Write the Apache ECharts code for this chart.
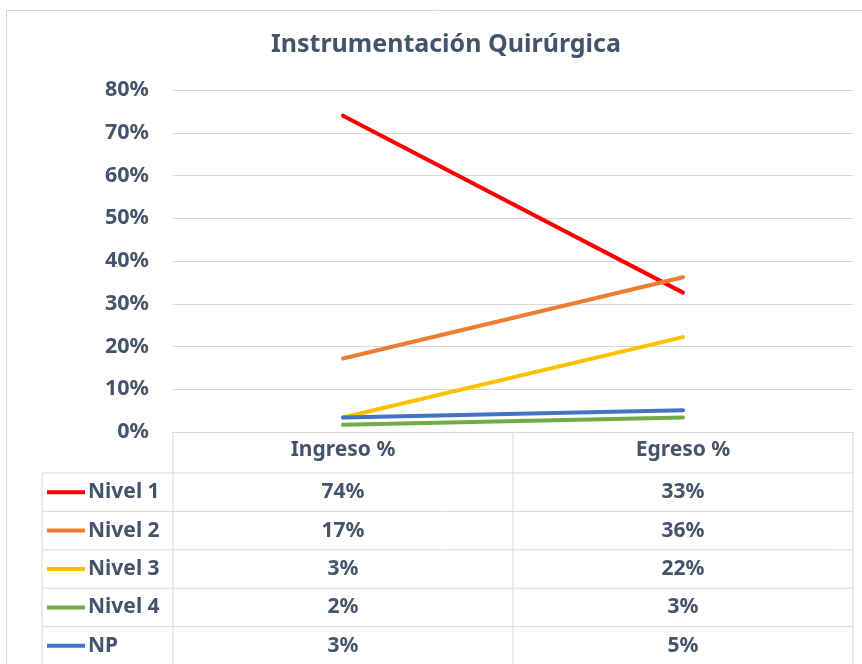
<!DOCTYPE html>
<html>
<head>
<meta charset="utf-8">
<script src="https://cdn.jsdelivr.net/npm/echarts@6/dist/echarts.min.js"></script>
<style>
  html, body { margin: 0; padding: 0; background: #fff; }
  #chart { width: 862px; height: 664px; }
</style>
</head>
<body>
<div id="chart"></div>
<script>
// datos
const categories = ['Ingreso %', 'Egreso %'];
const seriesNames = ['Nivel 1', 'Nivel 2', 'Nivel 3', 'Nivel 4', 'NP'];
const seriesColors = ['#ff0000', '#ed7d31', '#ffc000', '#70ad47', '#4472c4'];
const nivel1 = [0.74, 0.326];
const nivel2 = [0.172, 0.362];
const nivel3 = [0.034, 0.222];
const nivel4 = [0.017, 0.034];
const np = [0.034, 0.051];
const yTicks = [0, 0.1, 0.2, 0.3, 0.4, 0.5, 0.6, 0.7, 0.8];

const allValues = [nivel1, nivel2, nivel3, nivel4, np];
const textColor = '#44546a';
const lineColor = '#d9d9d9';
const font = 'Noto Sans';

const pct = v => Math.round(v * 100) + '%';

const chart = echarts.init(document.getElementById('chart'));

const option = {
  animation: false,
  backgroundColor: '#fff',
  title: {
    text: 'Instrumentación Quirúrgica',
    left: 441,
    textAlign: 'center',
    top: 27,
    textStyle: { color: textColor, fontFamily: font, fontSize: 25, fontWeight: 'bold' }
  },
  grid: { left: 173, right: 9, top: 90, bottom: 232 },
  xAxis: {
    type: 'category',
    data: categories,
    boundaryGap: true,
    axisLine: { show: true, lineStyle: { color: lineColor, width: 1 } },
    axisTick: { show: false },
    axisLabel: {
      color: textColor, fontFamily: font, fontSize: 21, fontWeight: 'bold', margin: 8
    }
  },
  yAxis: {
    type: 'value',
    min: yTicks[0],
    max: yTicks[yTicks.length - 1],
    interval: 0.1,
    axisLine: { show: false },
    axisTick: { show: false },
    splitLine: { lineStyle: { color: lineColor, width: 1 } },
    axisLabel: {
      color: textColor, fontFamily: font, fontSize: 21.5, fontWeight: 'bold', margin: 24,
      formatter: v => pct(v)
    }
  },
  series: allValues.map((vals, i) => ({
    name: seriesNames[i],
    type: 'line',
    data: vals,
    symbol: 'none',
    lineStyle: { color: seriesColors[i], width: 4, cap: 'round' },
    itemStyle: { color: seriesColors[i] },
    z: 3
  }))
};

chart.setOption(option);

// tabla de datos debajo del eje
function buildTable() {
  const headerTop = 432, rowH = 38.4, tableLeft = 42, legendRight = 173, right = 853;
  const firstRowTop = headerTop + 41;
  const bottom = firstRowTop + rowH * seriesNames.length;
  const colX = categories.map(c => chart.convertToPixel({ xAxisIndex: 0 }, c));
  const midX = (colX[0] + colX[1]) / 2;
  const els = [];
  const line = (x1, y1, x2, y2) => els.push({
    type: 'line', shape: { x1, y1, x2, y2 }, silent: true,
    style: { stroke: lineColor, lineWidth: 1 }
  });

  // borde exterior del gráfico
  els.push({
    type: 'rect', shape: { x: 6.5, y: 10.5, width: 900, height: 700 }, silent: true,
    style: { fill: null, stroke: '#d9d9d9', lineWidth: 1 }, z: -1
  });

  line(legendRight, headerTop, legendRight, bottom);
  line(midX, headerTop, midX, bottom);
  line(right, headerTop, right, bottom);
  line(tableLeft, firstRowTop, tableLeft, bottom);
  for (let r = 0; r <= seriesNames.length; r++) {
    const y = firstRowTop + r * rowH;
    line(tableLeft, y, right, y);
  }

  seriesNames.forEach((name, i) => {
    const cy = firstRowTop + rowH * (i + 0.5);
    els.push({
      type: 'line', shape: { x1: 47, y1: cy, x2: 85, y2: cy }, silent: true,
      style: { stroke: seriesColors[i], lineWidth: 4 }
    });
    els.push({
      type: 'text', x: 88, y: cy, silent: true,
      style: {
        text: name, fill: textColor, font: 'bold 21px "' + font + '"',
        textAlign: 'left', textVerticalAlign: 'middle'
      }
    });
    allValues[i].forEach((v, j) => {
      els.push({
        type: 'text', x: colX[j], y: cy, silent: true,
        style: {
          text: pct(v), fill: textColor, font: 'bold 21px "' + font + '"',
          textAlign: 'center', textVerticalAlign: 'middle'
        }
      });
    });
  });
  chart.setOption({ graphic: els });
}

buildTable();
</script>
</body>
</html>
